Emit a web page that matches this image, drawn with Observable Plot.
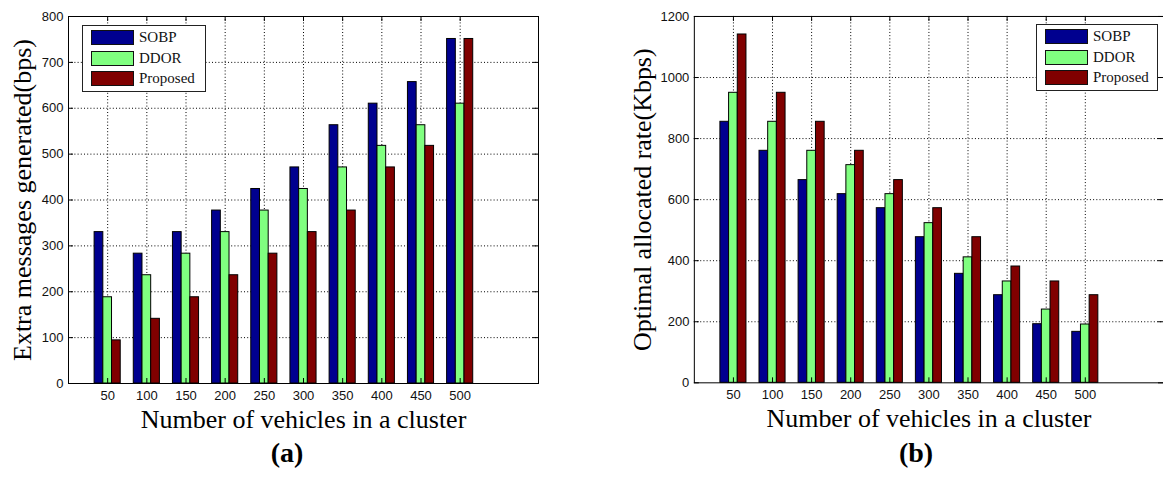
<!DOCTYPE html>
<html>
<head>
<meta charset="utf-8">
<script src="https://cdn.jsdelivr.net/npm/d3@7"></script>
<script src="https://cdn.jsdelivr.net/npm/@observablehq/plot@0.6"></script>
<style>
  html, body { margin: 0; padding: 0; background: #fff; }
  #root { position: relative; width: 1163px; height: 479px; overflow: hidden; }
  .chart { position: absolute; top: 0; }
  .legend { position: absolute; background: #fff; border: 1px solid #222; box-sizing: border-box; }
  .legend .row { position: absolute; height: 15px; }
  .legend .sw { position: absolute; left: 0; top: 0; width: 43px; height: 15px; border: 1px solid #111; box-sizing: border-box; }
  .legend .lab { position: absolute; left: 48px; top: -2px; font-family: "Liberation Serif", serif; font-size: 15px; line-height: 19px; white-space: nowrap; color: #111; }
  .caption { position: absolute; width: 100px; text-align: center; font-family: "Liberation Serif", serif; font-weight: bold; font-size: 28px; line-height: 30px; }
</style>
</head>
<body>
<div id="root"></div>
<script>
// ---------- data ----------
const categories = [50, 100, 150, 200, 250, 300, 350, 400, 450, 500];
const seriesNames = ["SOBP", "DDOR", "Proposed"];
const seriesColors = ["#00008F", "#80FF80", "#800000"];

// (a) Extra messages generated (bps)
const extraSOBP     = [330, 283, 330, 377, 424, 471, 563, 610, 657, 751];
const extraDDOR     = [188, 236, 283, 330, 377, 424, 471, 518, 563, 610];
const extraProposed = [94, 141, 188, 236, 283, 330, 377, 471, 518, 751];
const extraTicks = [0, 100, 200, 300, 400, 500, 600, 700, 800];

// (b) Optimal allocated rate (Kbps)
const rateSOBP     = [855, 760, 664, 618, 572, 477, 357, 287, 192, 167];
const rateDDOR     = [950, 855, 760, 713, 618, 523, 411, 332, 240, 191];
const rateProposed = [1141, 950, 855, 760, 664, 572, 477, 381, 332, 287];
const rateTicks = [0, 200, 400, 600, 800, 1000, 1200];

const xLabel = "Number of vehicles in a cluster";
const yLabelA = "Extra messages generated(bps)";
const yLabelB = "Optimal allocated rate(Kbps)";
const captionA = "(a)";
const captionB = "(b)";

// ---------- drawing ----------
const root = document.getElementById("root");
const H = 440, MT = 16, MB = 57;
const xDomain = [0, 600];
const step = 50;
const barW = step * (2 / 3) / 3;   // MATLAB grouped bar width

function makeChart({values, yTicks, yLabel, left, width, marginLeft, marginRight, yLabelDx}) {
  const rows = categories.flatMap((c, i) =>
    seriesNames.map((s, j) => ({cat: c, series: s, j, value: values[j][i]})));
  const pw = width - marginLeft - marginRight;
  const ph = H - MT - MB;
  const dotted = {stroke: "#000", strokeWidth: 1, strokeDasharray: "1,2.2"};
  const svg = Plot.plot({
    width, height: H,
    marginLeft, marginRight, marginTop: MT, marginBottom: MB,
    style: {fontFamily: "'Liberation Sans', Arial, sans-serif", fontSize: "13px", background: "transparent", overflow: "visible"},
    x: {domain: xDomain},
    y: {domain: [yTicks[0], yTicks[yTicks.length - 1]]},
    color: {domain: seriesNames, range: seriesColors},
    marks: [
      Plot.ruleX(categories, {x: d => d, ...dotted}),
      Plot.ruleY(yTicks.slice(1, -1), {y: d => d, ...dotted}),
      Plot.rect(rows, {
        x1: d => d.cat + (d.j - 1) * barW - barW / 2,
        x2: d => d.cat + (d.j - 1) * barW + barW / 2,
        y1: 0, y2: "value",
        fill: "series", stroke: "#000", strokeWidth: 1
      }),
      Plot.frame({stroke: "#000", strokeWidth: 1}),
      Plot.tickX(categories, {x: d => d, insetTop: ph - 5, stroke: "#000"}),
      Plot.tickX(categories, {x: d => d, insetBottom: ph - 5, stroke: "#000"}),
      Plot.tickY(yTicks, {y: d => d, insetRight: pw - 5, stroke: "#000"}),
      Plot.tickY(yTicks, {y: d => d, insetLeft: pw - 5, stroke: "#000"}),
      Plot.axisX({ticks: categories, tickSize: 0, tickPadding: 7, label: null, tickFormat: d => String(d), fill: "#111"}),
      Plot.axisY({ticks: yTicks, tickSize: 0, tickPadding: 5, label: null, tickFormat: d => String(d), fill: "#111"}),
      Plot.text([xLabel], {text: d => d, frameAnchor: "bottom", textAnchor: "middle", lineAnchor: "bottom", dy: 44,
        fontFamily: "'Liberation Serif', serif", fontSize: 26, fill: "#000"}),
      Plot.text([yLabel], {text: d => d, frameAnchor: "left", textAnchor: "middle", lineAnchor: "middle", rotate: -90, dx: yLabelDx,
        fontFamily: "'Liberation Serif', serif", fontSize: 26, fill: "#000"})
    ]
  });
  const wrap = document.createElement("div");
  wrap.className = "chart";
  wrap.style.left = left + "px";
  wrap.appendChild(svg);
  root.appendChild(wrap);
}

function makeLegend(left, top, width) {
  const lg = document.createElement("div");
  lg.className = "legend";
  lg.style.left = left + "px";
  lg.style.top = top + "px";
  lg.style.width = width + "px";
  lg.style.height = "67px";
  seriesNames.forEach((s, i) => {
    const row = document.createElement("div");
    row.className = "row";
    row.style.left = "8px";
    row.style.top = (4 + i * 20.5) + "px";
    const sw = document.createElement("div");
    sw.className = "sw";
    sw.style.background = seriesColors[i];
    const lab = document.createElement("div");
    lab.className = "lab";
    lab.textContent = s;
    row.appendChild(sw);
    row.appendChild(lab);
    lg.appendChild(row);
  });
  root.appendChild(lg);
}

function makeCaption(text, cx, top) {
  const c = document.createElement("div");
  c.className = "caption";
  c.style.left = (cx - 50) + "px";
  c.style.top = top + "px";
  c.textContent = text;
  root.appendChild(c);
}

makeChart({values: [extraSOBP, extraDDOR, extraProposed], yTicks: extraTicks, yLabel: yLabelA,
  left: 0, width: 581, marginLeft: 68, marginRight: 43, yLabelDx: -46});
makeChart({values: [rateSOBP, rateDDOR, rateProposed], yTicks: rateTicks, yLabel: yLabelB,
  left: 600, width: 564, marginLeft: 94, marginRight: 0, yLabelDx: -52});

makeLegend(82, 25, 124);
makeLegend(1036, 24, 122);

makeCaption(captionA, 287, 438);
makeCaption(captionB, 916, 438);
</script>
</body>
</html>
